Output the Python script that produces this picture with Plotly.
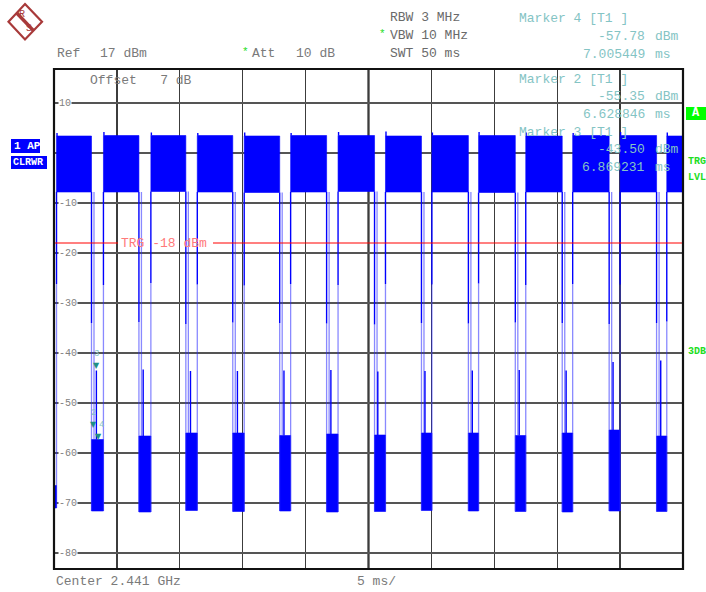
import plotly.graph_objects as go

# ------------------------------------------------------------------ data
# time axis (ms) shown on screen: 10 divisions of 5 ms
x_range_ms = [3.5, 53.5]
y_range_dbm = [-83.2, 16.8]

# bursts (high level packets)
burst_start_ms = [3.70, 7.43, 11.20, 14.89, 18.62, 22.31, 26.08, 29.85, 33.54, 37.25, 41.00, 44.73, 48.50, 52.21]
burst_end_ms = [6.48, 10.25, 13.98, 17.71, 21.44, 25.17, 28.98, 32.71, 36.44, 40.17, 43.90, 47.63, 51.40, 53.50]
burst_high_dbm = [3.4, 3.5, 3.5, 3.5, 3.4, 3.5, 3.5, 3.4, 3.5, 3.5, 3.4, 3.5, 3.5, 3.4]
burst_low_dbm = [-7.8, -7.8, -7.7, -7.8, -7.9, -7.8, -7.7, -7.8, -7.8, -7.9, -7.8, -7.8, -7.8, -7.8]
burst_peak_dbm = [4.0, 4.2, 4.1, 4.0, 4.1, 4.0, 4.2, 4.3, 4.1, 4.2, 4.1, 4.0, 4.2, 4.1]
rise_tail_dbm = [-26.2, -26.4, -26.0, -26.3, -26.5, -26.2, -26.4, -26.2, -26.3, -26.1, -26.4, -26.2, -26.3, -33.7]
fall_tail_dbm = [-34.0, -33.8, -34.2, -33.9, -34.0, -34.1, -34.3, -34.0, -34.1, -33.9, -34.0, -34.2, -34.0]

# low-level gaps between bursts (one per gap, after burst i)
gap_spike_ms = [6.87, 10.59, 14.35, 18.08, 21.78, 25.51, 29.24, 32.99, 36.75, 40.48, 44.21, 47.94, 51.73]
gap_spike_dbm = [-43.5, -43.3, -43.6, -43.6, -43.5, -43.4, -43.7, -43.6, -43.5, -43.4, -43.5, -41.8, -41.5]
gap_noise_top_dbm = [-57.3, -56.6, -56.0, -56.0, -56.5, -56.2, -56.4, -56.0, -56.0, -56.5, -56.0, -55.4, -56.6]
gap_noise_floor_dbm = [-71.6, -71.8, -71.5, -71.7, -71.6, -71.8, -71.7, -71.5, -71.6, -71.7, -71.8, -71.6, -71.7]
lead_noise_dbm = [-66.5, -71.0]

trigger_dbm = -18.0

marker_names = ["2", "3", "4"]
marker_ms = [6.628846, 6.869231, 7.005449]
marker_dbm = [-55.35, -43.50, -57.78]
panel_order = ["4", "2", "3"]

y_tick_vals = [10, -10, -20, -30, -40, -50, -60, -70, -80]
y_tick_text = ["10", "-10", "-20", "-30", "-40", "-50", "-60", "-70", "-80"]

# ------------------------------------------------------------------ geometry helpers
W, H = 706, 592
PL, PR, PT, PB = 54, 683, 69, 569   # plot area in window pixels


def px(x):
    return (x - PL) / (PR - PL)


def py(y):
    return (PB - y) / (PB - PT)


BLUE = "#0000ff"
LIGHT = "rgba(40,40,255,0.55)"
GRAY = "#7a7a7a"
TEAL = "#84c4c4"
MTEAL = "#1f8f86"
GREEN = "#22dd22"
MONO = "Liberation Mono, Courier New, monospace"

fig = go.Figure()

# burst blocks
bx, by = [], []
for s, e, hi, lo in zip(burst_start_ms, burst_end_ms, burst_high_dbm, burst_low_dbm):
    bx += [s, e, e, s, s, None]
    by += [lo, lo, hi, hi, lo, None]
fig.add_trace(go.Scatter(x=bx, y=by, mode="lines", fill="toself", fillcolor=BLUE,
                         line=dict(width=0.6, color=BLUE), hoverinfo="skip"))

# noise bands
nx, ny = [], []
nx += [x_range_ms[0], burst_start_ms[0], burst_start_ms[0], x_range_ms[0], x_range_ms[0], None]
ny += [lead_noise_dbm[1], lead_noise_dbm[1], lead_noise_dbm[0], lead_noise_dbm[0], lead_noise_dbm[1], None]
for i in range(len(gap_spike_ms)):
    e, s = burst_end_ms[i], burst_start_ms[i + 1]
    top, fl = gap_noise_top_dbm[i], gap_noise_floor_dbm[i]
    nx += [e, s, s, e, e, None]
    ny += [fl, fl, top, top, fl, None]
fig.add_trace(go.Scatter(x=nx, y=ny, mode="lines", fill="toself", fillcolor=BLUE,
                         line=dict(width=0.6, color=BLUE), hoverinfo="skip"))

# edges: light parts
lx, ly = [], []
for i in range(len(gap_spike_ms)):
    e, s = burst_end_ms[i], burst_start_ms[i + 1]
    lx += [e, e, None, e + 0.2, e + 0.2, None, s, s, None]
    ly += [fall_tail_dbm[i], gap_noise_floor_dbm[i], None,
           burst_low_dbm[i], gap_noise_top_dbm[i], None,
           rise_tail_dbm[i + 1], gap_noise_floor_dbm[i], None]
lx += [burst_start_ms[0], burst_start_ms[0], None]
ly += [rise_tail_dbm[0], lead_noise_dbm[1], None]
fig.add_trace(go.Scatter(x=lx, y=ly, mode="lines", line=dict(width=1.3, color=LIGHT),
                         hoverinfo="skip"))

# edges: dark parts and spikes
dx, dy = [], []
for i, s in enumerate(burst_start_ms):
    dx += [s, s, None, s + 0.04, s + 0.04, None]
    dy += [burst_low_dbm[i], rise_tail_dbm[i], None, burst_high_dbm[i], burst_peak_dbm[i], None]
for i in range(len(gap_spike_ms)):
    e = burst_end_ms[i]
    dx += [e, e, None, gap_spike_ms[i], gap_spike_ms[i], None]
    dy += [burst_low_dbm[i], fall_tail_dbm[i], None, gap_noise_top_dbm[i], gap_spike_dbm[i], None]
fig.add_trace(go.Scatter(x=dx, y=dy, mode="lines", line=dict(width=1.4, color=BLUE),
                         hoverinfo="skip"))

shapes = []
ann = []

# trigger line (interrupted by its label)
shapes.append(dict(type="line", xref="paper", yref="y", x0=0, x1=px(118),
                   y0=trigger_dbm, y1=trigger_dbm, line=dict(color="#ff0000", width=1.2)))
shapes.append(dict(type="line", xref="paper", yref="y", x0=px(213), x1=1,
                   y0=trigger_dbm, y1=trigger_dbm, line=dict(color="#ff0000", width=1.2)))
ann.append(dict(xref="paper", yref="y", x=px(119), y=trigger_dbm, xanchor="left", yanchor="middle",
                text=f"TRG {trigger_dbm:.0f} dBm", showarrow=False,
                font=dict(family=MONO, size=13, color="#ff7a7a")))

# centre vertical line (emphasised)
shapes.append(dict(type="line", xref="x", yref="paper", x0=sum(x_range_ms) / 2, x1=sum(x_range_ms) / 2,
                   y0=0, y1=1, line=dict(color="#000000", width=2), layer="below"))

# frame
shapes.append(dict(type="rect", xref="paper", yref="paper", x0=0, x1=1, y0=0, y1=1,
                   line=dict(color="#111111", width=2.2)))

# y tick labels inside plot
for v, t in zip(y_tick_vals, y_tick_text):
    ann.append(dict(xref="paper", yref="y", x=px(58), y=v, xanchor="left", yanchor="middle",
                    text=t, showarrow=False, bgcolor="#ffffff", borderpad=0,
                    font=dict(family=MONO, size=10, color="#808080")))

# markers on trace
for n, t, v in zip(marker_names, marker_ms, marker_dbm):
    ann.append(dict(xref="x", yref="y", x=t, y=v, yshift=5, text="▼", showarrow=False,
                    font=dict(family="DejaVu Sans", size=8, color=MTEAL)))
    ann.append(dict(xref="x", yref="y", x=t, y=v, yshift=17, xshift=(3 if n == "4" else 0),
                    text=n, showarrow=False,
                    font=dict(family=MONO, size=9, color=TEAL)))

# marker info panel
lookup = {n: (t, v) for n, t, v in zip(marker_names, marker_ms, marker_dbm)}
row_y = [19, 79, 132]
for n, y0 in zip(panel_order, row_y):
    t, v = lookup[n]
    ann.append(dict(xref="paper", yref="paper", x=px(517), y=py(y0), xanchor="left", yanchor="middle",
                    text=f"Marker {n} [T1 ]", showarrow=False, font=dict(family=MONO, size=13, color=TEAL)))
    ann.append(dict(xref="paper", yref="paper", x=px(647), y=py(y0 + 17.5), xanchor="right", yanchor="middle",
                    text=f"{v:.2f}", showarrow=False, font=dict(family=MONO, size=13, color=TEAL)))
    ann.append(dict(xref="paper", yref="paper", x=px(653), y=py(y0 + 17.5), xanchor="left", yanchor="middle",
                    text="dBm", showarrow=False, font=dict(family=MONO, size=13, color=TEAL)))
    ann.append(dict(xref="paper", yref="paper", x=px(647), y=py(y0 + 35.5), xanchor="right", yanchor="middle",
                    text=f"{t:.6f}", showarrow=False, font=dict(family=MONO, size=13, color=TEAL)))
    ann.append(dict(xref="paper", yref="paper", x=px(653), y=py(y0 + 35.5), xanchor="left", yanchor="middle",
                    text="ms", showarrow=False, font=dict(family=MONO, size=13, color=TEAL)))


def text(x, y, s, color=GRAY, size=13, anchor="left", bold=False, bg=None):
    d = dict(xref="paper", yref="paper", x=px(x), y=py(y), xanchor=anchor, yanchor="middle",
             text=(f"<b>{s}</b>" if bold else s), showarrow=False,
             font=dict(family=MONO, size=size, color=color))
    if bg:
        d.update(bgcolor=bg, borderpad=1)
    ann.append(d)


# header texts
text(55, 54, "Ref")
text(98, 54, "17 dBm")
text(240, 52, "*", color=GREEN, size=11)
text(250, 54, "Att")
text(294, 54, "10 dB")
text(88, 80, "Offset   7 dB")
text(388, 18, "RBW 3 MHz", color="#6a6a6a")
text(377, 34, "*", color=GREEN, size=11)
text(388, 36, "VBW 10 MHz", color="#6a6a6a")
text(388, 54, "SWT 50 ms", color="#6a6a6a")
# footer
text(54, 581, "Center 2.441 GHz")
text(355, 581, "5 ms/")

# right side indicators
shapes.append(dict(type="rect", xref="paper", yref="paper", x0=px(686), x1=px(706), y0=py(120), y1=py(107),
                   fillcolor="#00ff00", line=dict(width=0)))
text(696, 113.5, "A", color="#ffffff", size=12, anchor="center", bold=True)
text(685.5, 161, "TRG", color=GREEN, size=10, bold=True)
text(685.5, 177, "LVL", color=GREEN, size=10, bold=True)
text(685.5, 351, "3DB", color=GREEN, size=10, bold=True)

# left trace-mode boxes
shapes.append(dict(type="rect", xref="paper", yref="paper", x0=px(11), x1=px(40), y0=py(153), y1=py(139),
                   fillcolor=BLUE, line=dict(width=0)))
shapes.append(dict(type="rect", xref="paper", yref="paper", x0=px(11), x1=px(47), y0=py(169), y1=py(156),
                   fillcolor=BLUE, line=dict(width=0)))
text(12, 146, "1 AP", color="#ffffff", size=11, bold=True)
text(11, 162.5, "CLRWR", color="#ffffff", size=10, bold=True)

# R&S logo
LOGO = "#a83a3a"
pts = [(25, 4), (42, 21.7), (25, 39.5), (8.5, 21.7)]
path = "M " + " L ".join(f"{px(a)},{py(b)}" for a, b in pts) + " Z"
shapes.append(dict(type="path", xref="paper", yref="paper", path=path, line=dict(color=LOGO, width=2.2)))
shapes.append(dict(type="line", xref="paper", yref="paper", x0=px(16.5), y0=py(12.8), x1=px(33.5), y1=py(30.6),
                   line=dict(color=LOGO, width=3.5)))
text(21.5, 14.5, "R", color=LOGO, size=10, anchor="center")
text(29, 29, "S", color=LOGO, size=10, anchor="center")

fig.update_layout(
    width=W, height=H, autosize=False,
    margin=dict(l=PL, r=W - PR, t=PT, b=H - PB),
    plot_bgcolor="#ffffff", paper_bgcolor="#ffffff",
    showlegend=False,
    shapes=shapes, annotations=ann,
    xaxis=dict(range=x_range_ms, showticklabels=False, ticks="", tick0=x_range_ms[0], dtick=5,
               showgrid=True, gridcolor="#3c3c3c", gridwidth=1.2, zeroline=False, showline=False,
               fixedrange=True),
    yaxis=dict(range=y_range_dbm, showticklabels=False, ticks="", tick0=0, dtick=10,
               showgrid=True, gridcolor="#555555", gridwidth=1.3, zeroline=False, showline=False,
               fixedrange=True),
)

fig.write_html("out.html", default_width=f"{W}px", default_height=f"{H}px",
               config={"displayModeBar": False, "staticPlot": True},
               post_script="document.body.style.margin='0';document.body.style.overflow='hidden';")
